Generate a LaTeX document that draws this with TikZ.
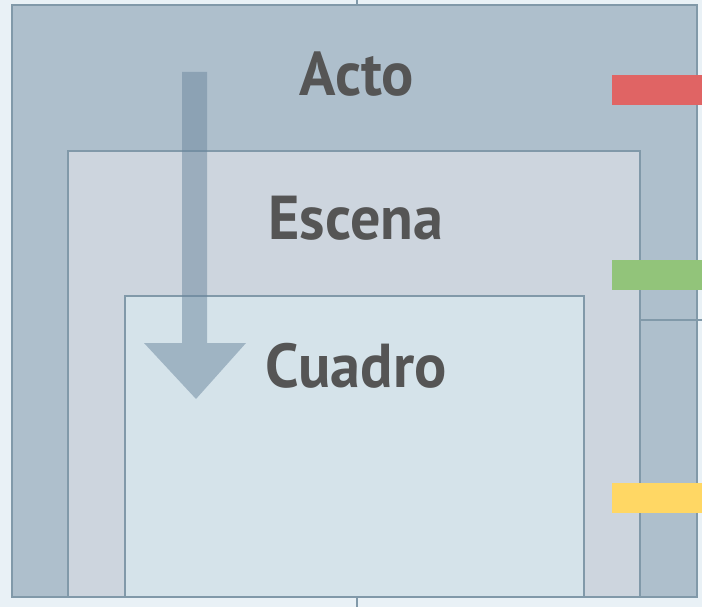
\documentclass[tikz,border=0pt]{standalone}
\usepackage{fontspec}
\usepackage{xcolor}
\setmainfont{PT Sans}
\newfontfamily\levelfont[FakeStretch=0.97]{PT Sans Bold}
\usetikzlibrary{positioning}
\definecolor{bgpale}{HTML}{E9F1F6}
\definecolor{actofill}{HTML}{AEBFCC}
\definecolor{escenafill}{HTML}{CDD5DE}
\definecolor{cuadrofill}{HTML}{D5E3EA}
\definecolor{edgeblue}{HTML}{8199A9}
\definecolor{arrowblue}{HTML}{6B869E}
\definecolor{labelgray}{HTML}{555555}
\definecolor{barred}{HTML}{E06464}
\definecolor{bargreen}{HTML}{92C47A}
\definecolor{baryellow}{HTML}{FFD764}

\begin{document}
\begin{tikzpicture}[x=1pt, y=-1pt, font=\levelfont]
    \tikzstyle{level}=[draw=edgeblue, line width=2pt]
    \tikzstyle{levellabel}=[text=labelgray, inner sep=0pt, font=\levelfont\fontsize{62}{62}\selectfont]
    \tikzstyle{bar}=[inner sep=0pt, minimum width=90pt, minimum height=30pt, anchor=west]

    \fill[bgpale] (0,0) rectangle (702,607);
    \useasboundingbox (0,0) rectangle (702,607);

    % nested levels
    \draw[level, fill=actofill] (12,5) rectangle (697,597);
    \draw[level, fill=escenafill] (68,151) rectangle (640,597);
    \draw[level, fill=cuadrofill] (125,296) rectangle (584,597);
    \draw[level, line width=1.4pt] (640,320) -- (702,320);
    \draw[edgeblue, line width=1.4pt] (357,0) -- (357,5);
    \draw[edgeblue, line width=1.4pt] (357,597) -- (357,607);

    % downward arrow
    \fill[arrowblue, opacity=0.5] (182,72) -- (207,72) -- (207,343) -- (246,343)
        -- (196,399) -- (144,343) -- (182,343) -- cycle;

    \node[levellabel] (acto) at (357,74) {Acto};
    \node[levellabel] (escena) at (356,218) {Escena};
    \node[levellabel] (cuadro) at (356,366) {Cuadro};

    % colour marks
    \node[bar, fill=barred] (redmark) at (612,90) {};
    \node[bar, fill=bargreen] (greenmark) at (612,274.5) {};
    \node[bar, fill=baryellow] (yellowmark) at (612,498) {};
\end{tikzpicture}
\end{document}
